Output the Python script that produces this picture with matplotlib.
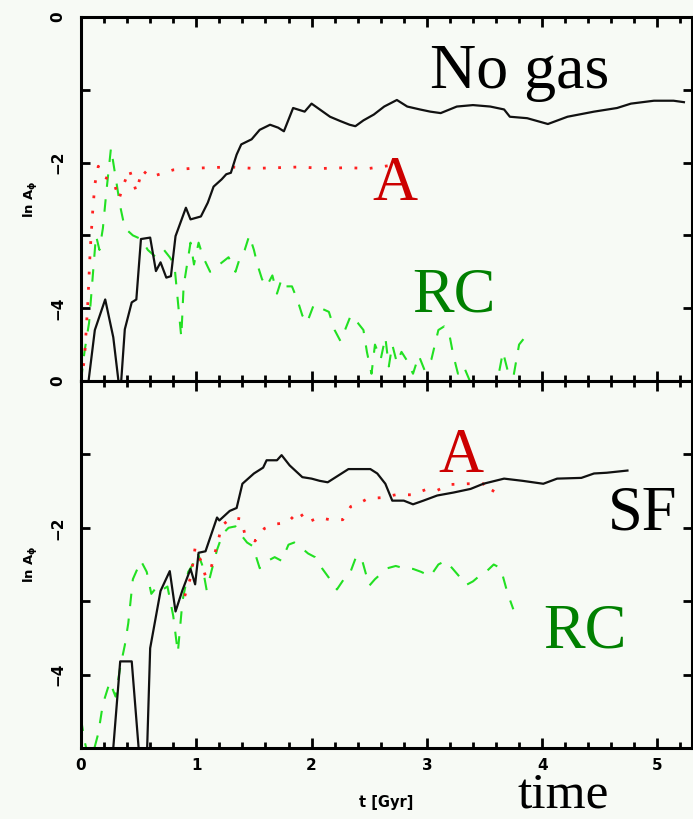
import matplotlib
matplotlib.use("Agg")
import matplotlib.pyplot as plt
from matplotlib.ticker import MultipleLocator, FuncFormatter

# ---------------- data ----------------
# Top panel ("No gas")
bx_top = [0.05, 0.12, 0.21, 0.28, 0.34, 0.38, 0.44, 0.48, 0.52, 0.60,
          0.65, 0.69, 0.74, 0.78, 0.82, 0.91, 0.95, 1.04, 1.10, 1.15,
          1.22, 1.26, 1.30, 1.35, 1.39, 1.48, 1.55, 1.64, 1.71, 1.76,
          1.84, 1.94, 2.00, 2.08, 2.16, 2.25, 2.33, 2.38, 2.45, 2.54,
          2.63, 2.74, 2.83, 2.94, 3.03, 3.12, 3.26, 3.40, 3.55, 3.67,
          3.72, 3.87, 4.05, 4.22, 4.45, 4.65, 4.77, 4.97, 5.14, 5.23]
by_top = [-5.2, -4.3, -3.88, -4.4, -5.2, -4.29, -3.92, -3.88, -3.05, -3.03,
          -3.49, -3.37, -3.58, -3.56, -3.01, -2.62, -2.78, -2.74, -2.55, -2.33,
          -2.23, -2.16, -2.14, -1.89, -1.75, -1.68, -1.55, -1.48, -1.52, -1.57,
          -1.25, -1.30, -1.19, -1.28, -1.37, -1.43, -1.48, -1.50, -1.42, -1.34,
          -1.23, -1.14, -1.23, -1.27, -1.30, -1.32, -1.23, -1.21, -1.23, -1.27,
          -1.37, -1.39, -1.47, -1.37, -1.30, -1.25, -1.19, -1.15, -1.15, -1.17]

rx_top = [0.00, 0.03, 0.06, 0.08, 0.10, 0.12, 0.15, 0.20, 0.28, 0.33,
          0.37, 0.42, 0.48, 0.53, 0.60, 0.70, 0.80, 0.95, 1.10, 1.30,
          1.50, 1.70, 1.90, 2.10, 2.30, 2.50, 2.68]
ry_top = [-5.0, -4.7, -3.9, -3.2, -2.7, -2.3, -2.05, -2.2, -2.25, -2.5,
          -2.3, -2.1, -2.4, -2.1, -2.2, -2.15, -2.1, -2.08, -2.07, -2.06,
          -2.08, -2.07, -2.06, -2.08, -2.07, -2.08, -2.04]

gx_top = [0.00, 0.03, 0.07, 0.10, 0.13, 0.16, 0.19, 0.22, 0.24, 0.26,
          0.28, 0.31, 0.34, 0.38, 0.45, 0.52, 0.58, 0.65, 0.72, 0.77,
          0.81, 0.84, 0.87, 0.89, 0.92, 0.95, 0.98, 1.02, 1.06, 1.12,
          1.20, 1.28, 1.34, 1.38, 1.42, 1.46, 1.50, 1.53, 1.57, 1.61,
          1.66, 1.70, 1.74, 1.78, 1.83, 1.88, 1.92, 1.96, 2.02, 2.08,
          2.15, 2.20, 2.25, 2.29, 2.34, 2.40, 2.45, 2.48, 2.52, 2.55,
          2.60, 2.64, 2.67, 2.70, 2.74, 2.78, 2.82, 2.88, 2.93, 2.98,
          3.04, 3.10, 3.15, 3.20, 3.23, 3.27, 3.32, 3.40, 3.50, 3.60,
          3.66, 3.70, 3.75, 3.80, 3.85]
gy_top = [-5.0, -4.6, -4.2, -3.6, -3.0, -3.2, -2.9, -2.4, -2.1, -1.8,
          -2.0, -2.3, -2.6, -2.9, -3.0, -3.05, -3.2, -3.3, -3.2, -3.3,
          -3.4, -3.9, -4.4, -3.7, -3.4, -3.1, -3.4, -3.1, -3.3, -3.5,
          -3.4, -3.3, -3.5, -3.3, -3.2, -3.0, -3.2, -3.4, -3.6, -3.7,
          -3.55, -3.8, -3.6, -3.7, -3.7, -3.9, -4.1, -4.2, -3.95, -4.0,
          -4.05, -4.3, -4.45, -4.3, -4.1, -4.2, -4.3, -4.6, -4.9, -4.5,
          -4.7, -4.4, -4.8, -4.5, -4.75, -4.6, -4.7, -4.9, -4.65, -4.85,
          -4.7, -4.3, -4.25, -4.4, -4.65, -4.9, -4.8, -5.1, -5.3, -5.1,
          -4.6, -4.85, -4.95, -4.5, -4.4]

# Bottom panel ("SF")
kx_bot = [0.28, 0.34, 0.44, 0.51, 0.57, 0.60, 0.69, 0.77, 0.82, 0.88,
          0.95, 0.99, 1.02, 1.08, 1.18, 1.20, 1.29, 1.35, 1.40, 1.50,
          1.58, 1.61, 1.70, 1.74, 1.81, 1.92, 2.00, 2.07, 2.14, 2.26,
          2.32, 2.51, 2.57, 2.64, 2.70, 2.80, 2.88, 2.97, 3.09, 3.23,
          3.38, 3.49, 3.67, 3.83, 4.01, 4.13, 4.34, 4.45, 4.56, 4.74]
ky_bot = [-5.0, -3.82, -3.82, -5.2, -5.2, -3.64, -2.86, -2.59, -3.14, -2.85,
          -2.56, -2.77, -2.34, -2.32, -1.86, -1.90, -1.77, -1.73, -1.40, -1.26,
          -1.18, -1.08, -1.08, -1.01, -1.15, -1.31, -1.33, -1.36, -1.38, -1.26,
          -1.20, -1.20, -1.26, -1.40, -1.63, -1.63, -1.68, -1.63, -1.56, -1.52,
          -1.47, -1.40, -1.33, -1.36, -1.40, -1.33, -1.32, -1.26, -1.25, -1.22]

rx_bot = [0.90, 0.95, 0.97, 0.99, 1.04, 1.08, 1.12, 1.15, 1.19, 1.22,
          1.31, 1.39, 1.42, 1.51, 1.59, 1.68, 1.79, 1.89, 1.96, 2.06,
          2.16, 2.27, 2.34, 2.42, 2.49, 2.60, 2.73, 2.87, 2.99, 3.09,
          3.20, 3.35, 3.49, 3.56, 3.62]
ry_bot = [-2.93, -2.68, -2.49, -2.27, -2.45, -2.66, -2.60, -2.41, -2.18, -1.97,
          -1.86, -1.88, -2.08, -2.18, -2.01, -1.95, -1.93, -1.77, -1.93, -1.86,
          -1.89, -1.89, -1.71, -1.66, -1.60, -1.59, -1.55, -1.55, -1.48, -1.49,
          -1.41, -1.40, -1.40, -1.53, -1.38]

gx_bot = [0.00, 0.03, 0.06, 0.10, 0.15, 0.19, 0.25, 0.30, 0.34, 0.38,
          0.41, 0.45, 0.52, 0.57, 0.61, 0.66, 0.70, 0.75, 0.80, 0.84,
          0.88, 0.93, 0.97, 1.01, 1.05, 1.09, 1.13, 1.18, 1.23, 1.28,
          1.34, 1.39, 1.44, 1.49, 1.55, 1.62, 1.68, 1.74, 1.80, 1.85,
          1.91, 1.97, 2.03, 2.09, 2.15, 2.22, 2.28, 2.34, 2.39, 2.44,
          2.50, 2.55, 2.60, 2.66, 2.73, 2.80, 2.88, 2.95, 3.03, 3.10,
          3.16, 3.22, 3.28, 3.34, 3.40, 3.46, 3.52, 3.58, 3.64, 3.70,
          3.75]
gy_bot = [-4.6, -4.9, -5.1, -5.1, -4.8, -4.4, -4.1, -4.3, -3.9, -3.6,
          -3.3, -2.7, -2.45, -2.6, -2.9, -2.8, -2.85, -2.8, -3.2, -3.7,
          -3.0, -2.6, -2.5, -2.34, -2.5, -2.85, -2.6, -2.3, -2.08, -2.0,
          -1.98, -2.1, -2.2, -2.25, -2.55, -2.45, -2.4, -2.45, -2.23, -2.2,
          -2.27, -2.35, -2.4, -2.55, -2.68, -2.84, -2.7, -2.59, -2.38, -2.45,
          -2.79, -2.7, -2.63, -2.55, -2.52, -2.55, -2.56, -2.6, -2.66, -2.5,
          -2.45, -2.55, -2.66, -2.78, -2.73, -2.65, -2.59, -2.5, -2.55, -2.89,
          -3.11]

x_ticks = [0, 1, 2, 3, 4, 5]
y_tick_labels = [0, -2, -4]
xlim = (0, 5.3)
ylim = (-5, 0)

# ---------------- style ----------------
W, H = 693, 819
BG = "#f7faf5"
BLACK = "#111111"
RED = "#ff2020"
GREEN = "#22e022"
TXT_RED = "#cc0000"
TXT_GREEN = "#008000"

fig = plt.figure(figsize=(W / 100, H / 100), dpi=100, facecolor=BG)


def frac(px, py):
    return px / W, 1 - py / H


def yfmt(v, pos):
    iv = int(round(v))
    if iv in y_tick_labels:
        return ("\u2212%d" % -iv) if iv < 0 else "%d" % iv
    return ""


def make_axes(top_px, bot_px):
    left, right = 81, 692
    ax = fig.add_axes([left / W, 1 - bot_px / H, (right - left) / W, (bot_px - top_px) / H])
    ax.set_facecolor(BG)
    ax.set_xlim(*xlim)
    ax.set_ylim(*ylim)
    for s in ax.spines.values():
        s.set_linewidth(2.2)
        s.set_color("black")
    ax.xaxis.set_major_locator(MultipleLocator(1))
    ax.xaxis.set_minor_locator(MultipleLocator(0.2))
    ax.yaxis.set_major_locator(MultipleLocator(1))
    ax.yaxis.set_major_formatter(FuncFormatter(yfmt))
    ax.tick_params(which="both", direction="in", top=True, right=True, width=2.0, color="black")
    ax.tick_params(which="major", length=7.5)
    ax.tick_params(which="minor", length=4.5)
    ax.tick_params(axis="y", which="major", length=6.5, pad=11)
    ax.tick_params(axis="x", which="major", pad=7)
    ax.tick_params(axis="both", labelsize=11)
    ax.set_ylabel(r"ln A$_{\mathbf{\phi}}$", fontsize=9.5, fontweight="bold")
    ax.yaxis.set_label_coords(-0.067, 0.5)
    return ax


ax1 = make_axes(17, 381)
ax2 = make_axes(381, 748)

ax1.tick_params(axis="x", labelbottom=False)
ax2.set_xticks(x_ticks)
ax2.set_xticklabels([str(v) for v in x_ticks], fontweight="bold", fontsize=11)
for ax in (ax1, ax2):
    for lab in ax.get_yticklabels():
        lab.set_rotation(90)
        lab.set_fontweight("bold")
        lab.set_va("center")

# ---------------- curves ----------------
green_kw = dict(color=GREEN, lw=1.5, linestyle=(0, (6, 6)))
red_kw = dict(color=RED, lw=2.0, linestyle=(0, (1, 4.5)))
black_kw = dict(color=BLACK, lw=1.6)

ax1.plot(gx_top, gy_top, **green_kw)
ax1.plot(rx_top, ry_top, **red_kw)
ax1.plot(bx_top, by_top, **black_kw)

ax2.plot(gx_bot, gy_bot, **green_kw)
ax2.plot(rx_bot, ry_bot, **red_kw)
ax2.plot(kx_bot, ky_bot, **black_kw)

# ---------------- annotations ----------------
SERIF = ["Liberation Serif", "DejaVu Serif"]
fig.text(*frac(386, 803), "t [Gyr]", ha="center", va="center", fontsize=10.5, fontweight="bold")

fig.text(*frac(430, 88), "No gas", fontsize=46, family=SERIF, color="black", ha="left", va="baseline")
fig.text(*frac(372, 200), "A", fontsize=45, family=SERIF, color=TXT_RED, ha="left", va="baseline")
fig.text(*frac(412, 312), "RC", fontsize=45, family=SERIF, color=TXT_GREEN, ha="left", va="baseline")
fig.text(*frac(438, 472), "A", fontsize=45, family=SERIF, color=TXT_RED, ha="left", va="baseline")
fig.text(*frac(608, 530), "SF", fontsize=45, family=SERIF, color="black", ha="left", va="baseline")
fig.text(*frac(543, 647), "RC", fontsize=45, family=SERIF, color=TXT_GREEN, ha="left", va="baseline")
fig.text(*frac(517, 819), "time", fontsize=37, family=SERIF, color="black", ha="left", va="bottom")

fig.savefig("out.png", dpi=100, facecolor=BG)
